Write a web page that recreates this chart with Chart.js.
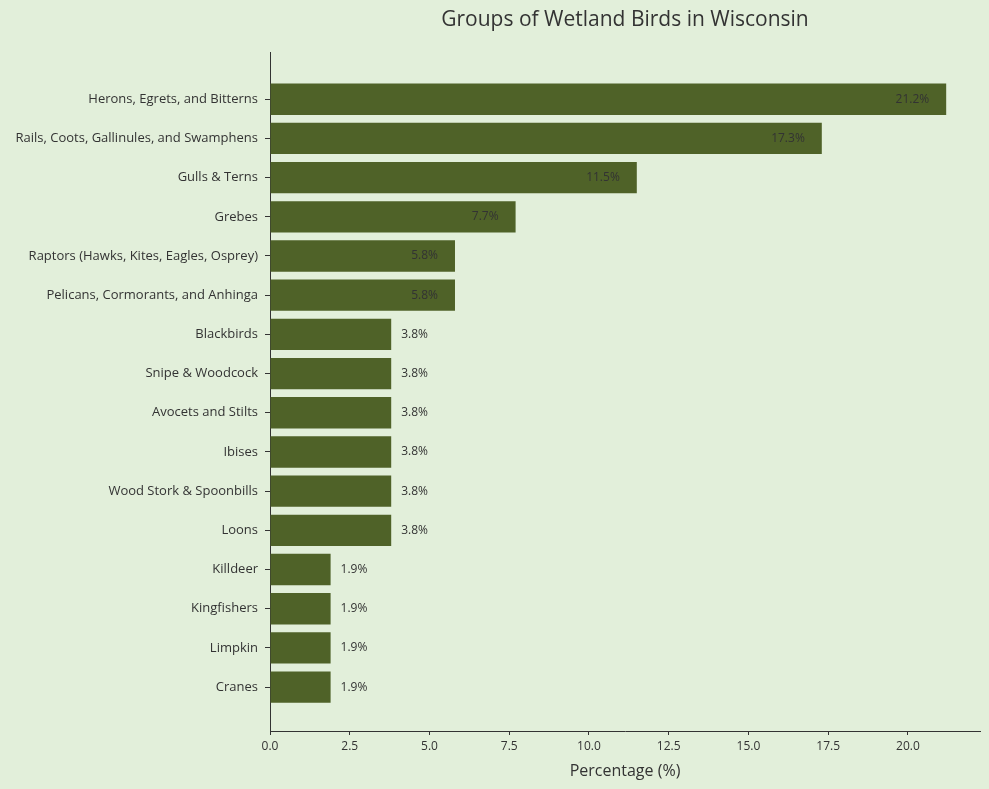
<!DOCTYPE html>
<html>
<head>
<meta charset="utf-8">
<script src="https://cdn.jsdelivr.net/npm/chart.js@4"></script>
<style>
	html, body { margin: 0; padding: 0; background: #e2efda; }
	#wrap { width: 989px; height: 789px; }
</style>
</head>
<body>
<div id="wrap"><canvas id="birdChart" width="989" height="789"></canvas></div>
<script>
const categories = [
	'Herons, Egrets, and Bitterns',
	'Rails, Coots, Gallinules, and Swamphens',
	'Gulls & Terns',
	'Grebes',
	'Raptors (Hawks, Kites, Eagles, Osprey)',
	'Pelicans, Cormorants, and Anhinga',
	'Blackbirds',
	'Snipe & Woodcock',
	'Avocets and Stilts',
	'Ibises',
	'Wood Stork & Spoonbills',
	'Loons',
	'Killdeer',
	'Kingfishers',
	'Limpkin',
	'Cranes'
];
const percentages = [21.2, 17.3, 11.5, 7.7, 5.8, 5.8, 3.8, 3.8, 3.8, 3.8, 3.8, 3.8, 1.9, 1.9, 1.9, 1.9];
const xTicks = [0, 2.5, 5, 7.5, 10, 12.5, 15, 17.5, 20];

const fontFamily = '"Open Sans", "Noto Sans", sans-serif';
const textColor = '#333333';

// value labels: inside the bar for the big ones, outside for the rest
const barLabels = {
	id: 'barLabels',
	afterDatasetsDraw(chart) {
		const ctx = chart.ctx;
		const meta = chart.getDatasetMeta(0);
		ctx.save();
		ctx.font = '12px ' + fontFamily;
		ctx.fillStyle = textColor;
		ctx.textBaseline = 'middle';
		meta.data.forEach((bar, i) => {
			const v = percentages[i];
			const txt = v.toFixed(1) + '%';
			if (v > 5) {
				ctx.textAlign = 'right';
				ctx.fillText(txt, bar.x - 17, bar.y);
			} else {
				ctx.textAlign = 'left';
				ctx.fillText(txt, bar.x + 10, bar.y);
			}
		});
		ctx.restore();
	}
};

const ctx = document.getElementById('birdChart').getContext('2d');

new Chart(ctx, {
	type: 'bar',
	data: {
		datasets: [{
			label: 'Percentage',
			data: percentages.map((v, i) => ({ x: v, y: i })),
			backgroundColor: '#4f6228',
			borderWidth: 0,
			categoryPercentage: 1,
			barPercentage: 0.8
		}]
	},
	options: {
		indexAxis: 'y',
		responsive: false,
		animation: false,
		layout: { padding: { left: 0, right: 9, top: 0, bottom: 0 } },
		scales: {
			x: {
				type: 'linear',
				min: 0,
				max: 22.26,
				afterBuildTicks: (scale) => { scale.ticks = xTicks.map(v => ({ value: v })); },
				afterFit: (scale) => { scale.height = 58; },
				grid: { drawOnChartArea: false, drawTicks: true, tickLength: 4, color: textColor },
				border: { display: true, color: textColor, width: 1 },
				ticks: {
					color: textColor,
					font: { family: fontFamily, size: 12 },
					padding: 4,
					callback: (v) => Number(v).toFixed(1)
				},
				title: {
					display: true,
					text: 'Percentage (%)',
					color: textColor,
					font: { family: fontFamily, size: 16 },
					padding: { top: 4, bottom: 8 }
				}
			},
			y: {
				type: 'linear',
				reverse: true,
				offset: false,
				min: -1.2,
				max: 16.12,
				afterBuildTicks: (scale) => { scale.ticks = categories.map((c, i) => ({ value: i })); },
				afterFit: (scale) => { scale.width = 270; },
				grid: { offset: false, drawOnChartArea: false, drawTicks: true, tickLength: 5, color: textColor },
				border: { display: true, color: textColor, width: 1 },
				ticks: {
					color: textColor,
					font: { family: fontFamily, size: 13 },
					padding: 7,
					callback: (v) => categories[v]
				}
			}
		},
		plugins: {
			legend: { display: false },
			tooltip: { enabled: false },
			title: {
				display: true,
				fullSize: false,
				text: 'Groups of Wetland Birds in Wisconsin',
				color: textColor,
				font: { family: fontFamily, size: 21, weight: 'normal' },
				padding: { top: 7, bottom: 20 }
			}
		}
	},
	plugins: [barLabels, {
		id: 'bg',
		beforeDraw(chart) {
			const c = chart.ctx;
			c.save();
			c.fillStyle = '#e2efda';
			c.fillRect(0, 0, chart.width, chart.height);
			c.restore();
		}
	}]
});
</script>
</body>
</html>
